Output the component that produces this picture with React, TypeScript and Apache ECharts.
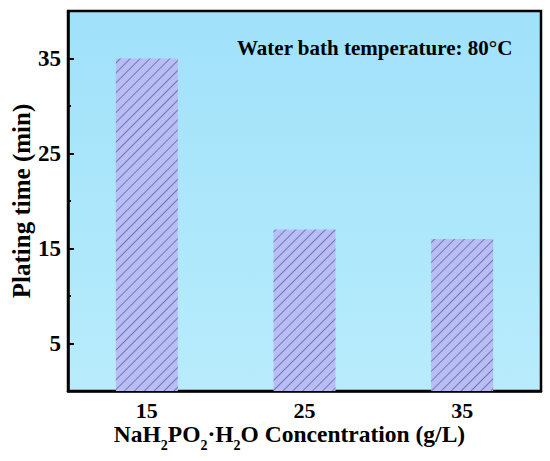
import React, { useEffect, useRef } from "react";
import * as echarts from "echarts";

const categories = ["15", "25", "35"];
const platingTime = [35, 17, 16];
const yMajorTicks = [5, 15, 25, 35];
const yMinorTicks = [10, 20, 30];
const annotation = "Water bath temperature: 80\u00B0C";
const xTitle = "{n|NaH}{s|2}{n|PO}{s|2}{n|\u00B7H}{s|2}{n|O Concentration (g/L)}";
const yTitle = "Plating time (min)";

const FONT = "Liberation Serif";

export default function App() {
  const ref = useRef<HTMLDivElement>(null);
  useEffect(() => {
    document.body.style.margin = "0";
    const chart = echarts.init(ref.current!, null, { renderer: "svg" });
    chart.setOption({
      animation: false,
      textStyle: { fontFamily: FONT },
      grid: {
        left: 68,
        right: 9,
        top: 11,
        bottom: 70,
        containLabel: false,
        outerBoundsMode: "none",
        show: true,
        borderColor: "#000",
        borderWidth: 2.5,
        backgroundColor: new echarts.graphic.LinearGradient(0, 0, 0, 1, [
          { offset: 0, color: "#a0e1fa" },
          { offset: 1, color: "#b8ecfc" },
        ]),
      },
      xAxis: {
        type: "category",
        data: categories,
        axisLine: { show: true, lineStyle: { color: "#000", width: 2.5 } },
        axisTick: { show: true, inside: true, length: 4, alignWithLabel: true, lineStyle: { color: "#000", width: 2 } },
        axisLabel: { color: "#000", fontFamily: FONT, fontWeight: "bold", fontSize: 22, margin: 8 },
        splitLine: { show: false },
        name: xTitle,
        nameLocation: "middle",
        nameGap: 31,
        nameMoveOverlap: false,
        nameTextStyle: {
          fontFamily: FONT,
          fontWeight: "bold",
          fontSize: 23.5,
          padding: [0, 30, 0, 0],
          rich: {
            n: { fontFamily: FONT, fontWeight: "bold", fontSize: 23.5, lineHeight: 24, color: "#000" },
            s: { fontFamily: FONT, fontWeight: "bold", fontSize: 14, lineHeight: 12, color: "#000", padding: [22, 0, 0, 0] },
          },
        },
      },
      yAxis: [
        {
          type: "value",
          min: 0,
          max: 40,
          interval: 5,
          axisLine: { show: true, lineStyle: { color: "#000", width: 2.5 } },
          axisTick: { show: true, inside: true, length: 6, customValues: yMajorTicks, lineStyle: { color: "#000", width: 2 } },
          axisLabel: { color: "#000", fontFamily: FONT, fontWeight: "bold", fontSize: 23, margin: 7, customValues: yMajorTicks },
          splitLine: { show: false },
          name: yTitle,
          nameLocation: "middle",
          nameRotate: 90,
          nameGap: 34,
          nameMoveOverlap: false,
          nameTextStyle: { fontFamily: FONT, fontWeight: "bold", fontSize: 25, color: "#000" },
        },
        {
          type: "value",
          position: "left",
          min: 0,
          max: 40,
          interval: 5,
          axisLine: { show: false },
          axisTick: { show: true, inside: true, length: 3, customValues: yMinorTicks, lineStyle: { color: "#000", width: 2 } },
          axisLabel: { show: false },
          splitLine: { show: false },
        },
      ],
      series: [
        {
          type: "bar",
          data: platingTime,
          barWidth: 62,
          itemStyle: {
            color: "#b9bdf6",
            decal: {
              symbol: "rect",
              symbolSize: 1,
              dashArrayX: [1, 0],
              dashArrayY: [0.9, 5.5],
              rotation: -Math.PI / 4,
              color: "rgba(55, 58, 125, 0.55)",
            },
          },
        },
      ],
      graphic: [
        {
          type: "text",
          x: 237,
          y: 48,
          style: {
            text: annotation,
            font: `bold 21px ${FONT}`,
            fill: "#000",
            verticalAlign: "middle",
          },
        },
      ],
    });
    return () => chart.dispose();
  }, []);
  return <div ref={ref} style={{ width: 550, height: 461 }} />;
}
